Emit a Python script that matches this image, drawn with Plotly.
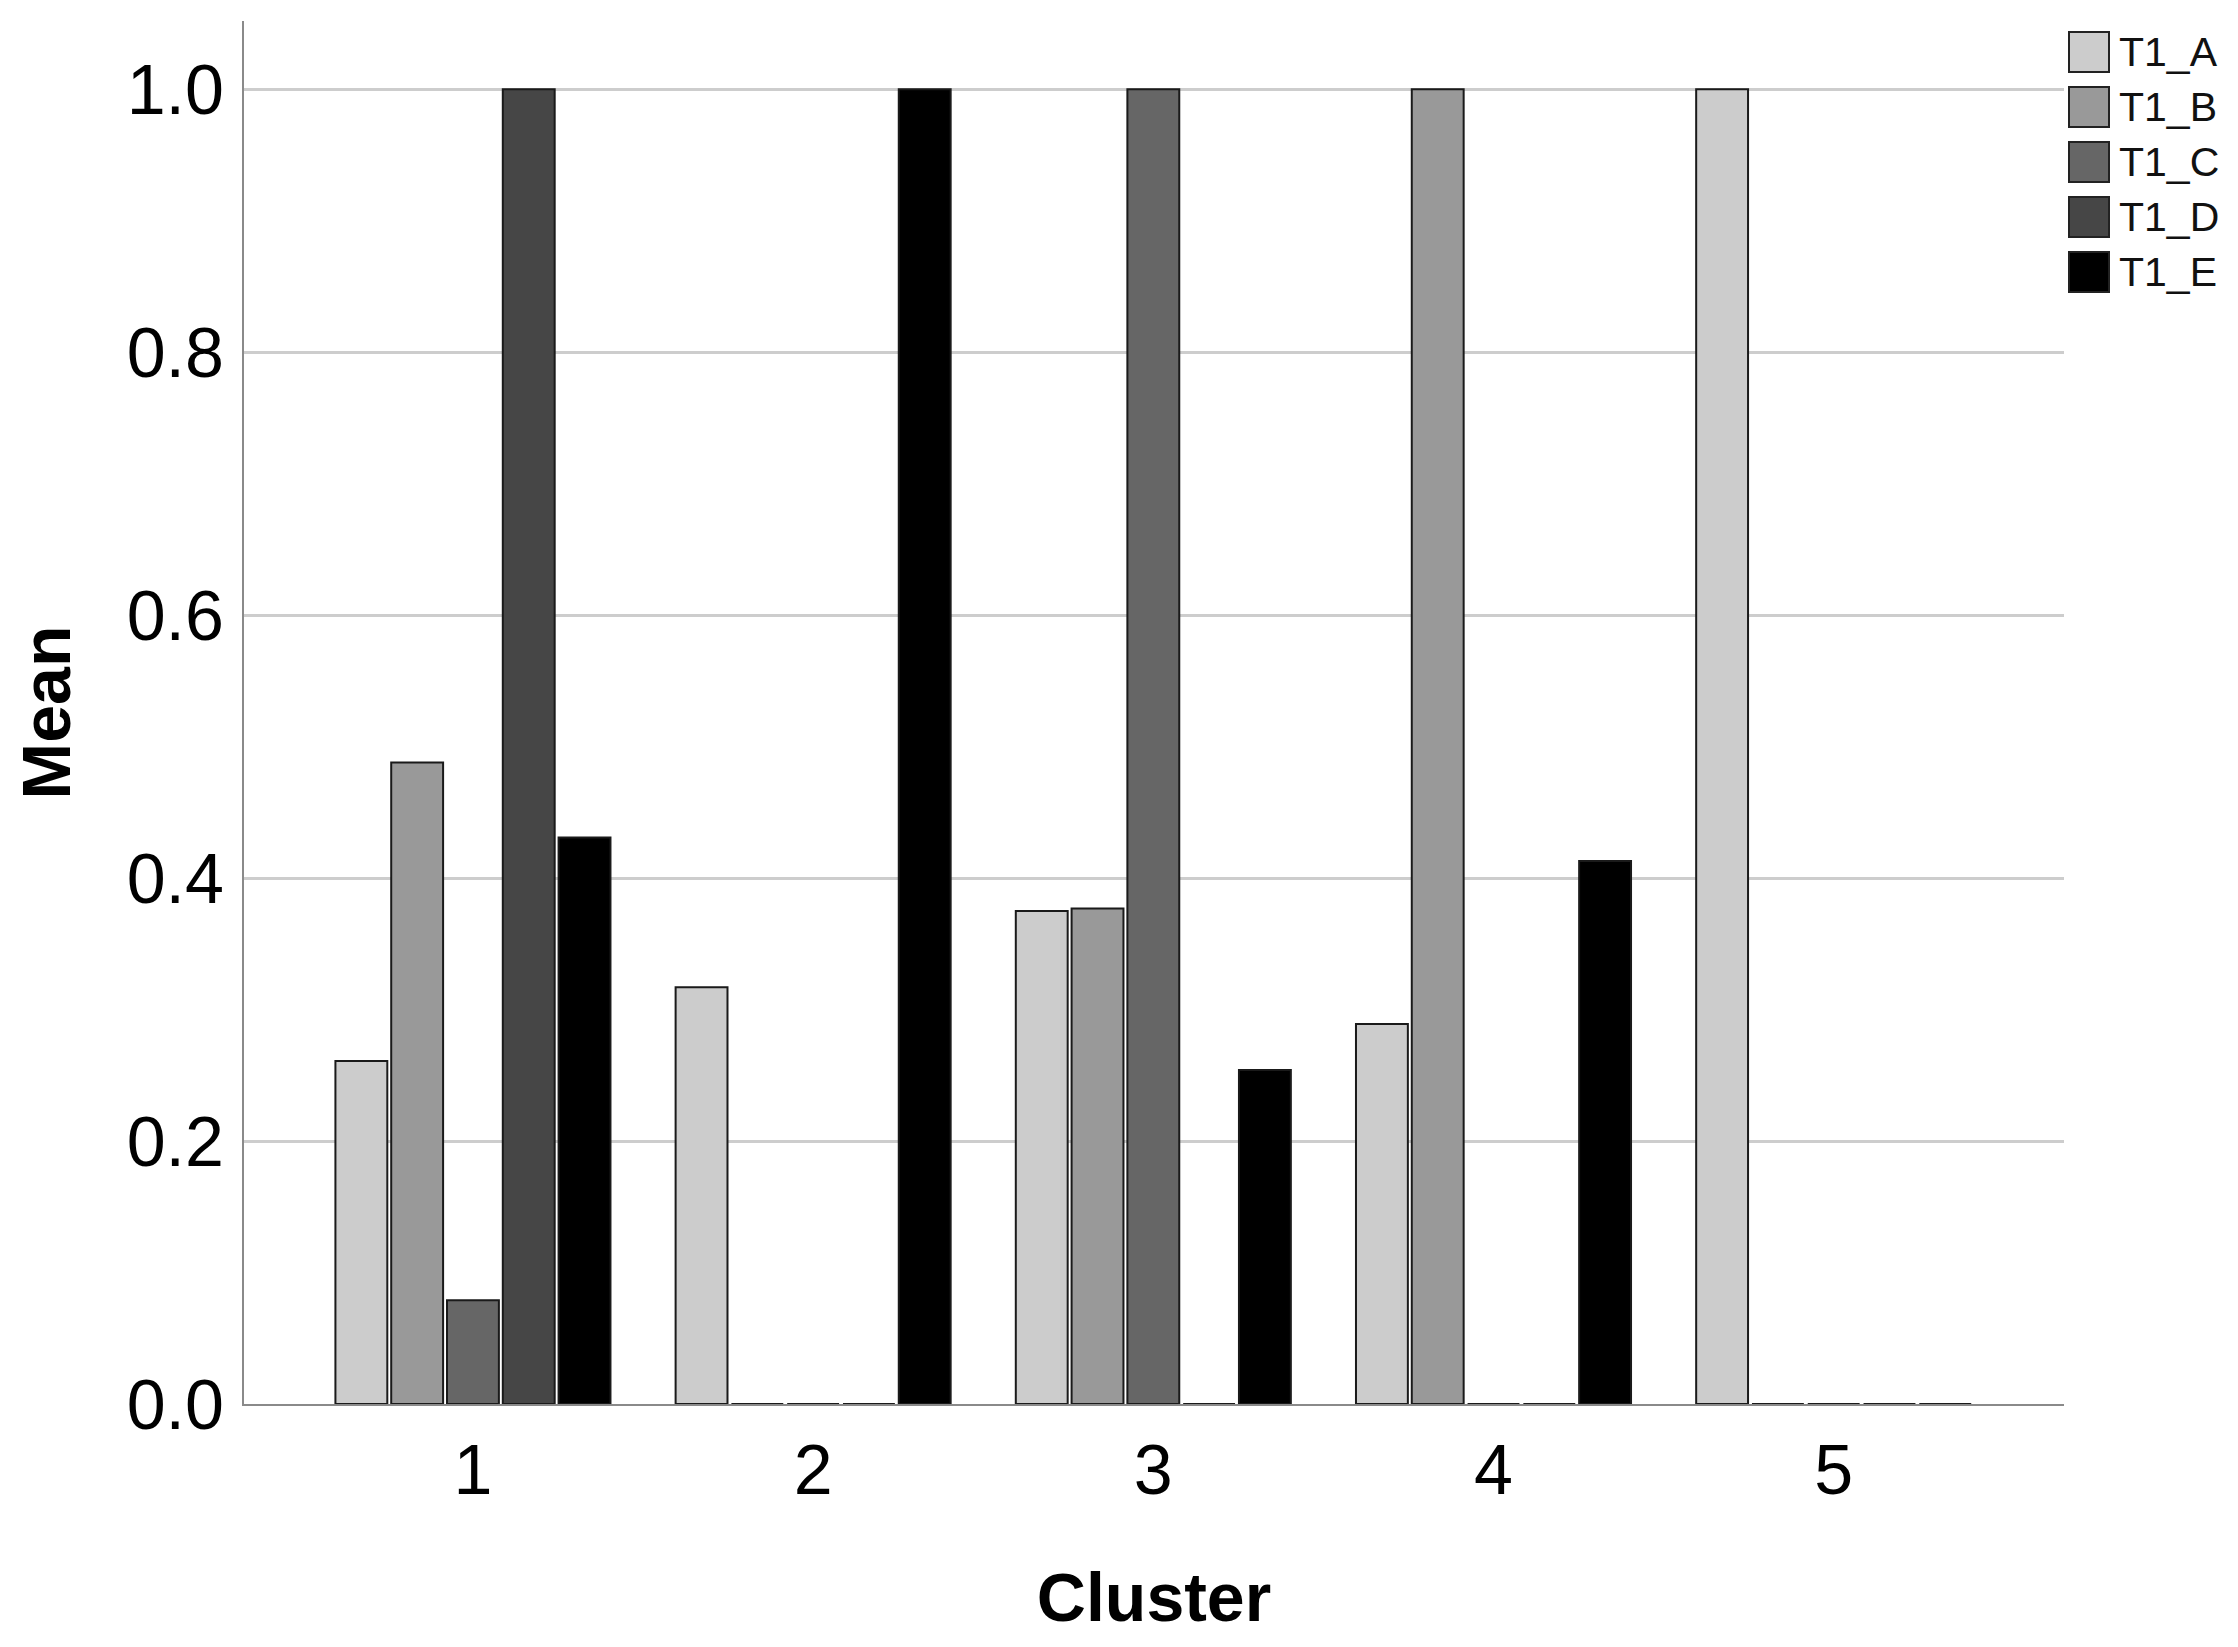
import plotly.graph_objects as go

W, H = 2238, 1647
MARGIN = dict(l=236, r=182, t=13, b=251)

clusters = ["1", "2", "3", "4", "5"]
series_names = ["T1_A", "T1_B", "T1_C", "T1_D", "T1_E"]
series_colors = ["#cccccc", "#999999", "#666666", "#464646", "#000000"]

t1_a = [0.261, 0.317, 0.375, 0.289, 1.0]
t1_b = [0.488, 0.0, 0.377, 1.0, 0.0]
t1_c = [0.079, 0.0, 1.0, 0.0, 0.0]
t1_d = [1.0, 0.0, 0.0, 0.0, 0.0]
t1_e = [0.431, 1.0, 0.254, 0.413, 0.0]

y_ticks = [0.0, 0.2, 0.4, 0.6, 0.8, 1.0]

FONT = "Liberation Sans, Arial, sans-serif"


def main():
    fig = go.Figure()
    values = [t1_a, t1_b, t1_c, t1_d, t1_e]

    for name, color, vals in zip(series_names, series_colors, values):
        fig.add_trace(go.Bar(
            x=clusters,
            y=vals,
            name=name,
            marker=dict(color=color, line=dict(color="#1a1a1a", width=2)),
            showlegend=False,
        ))

    fig.update_layout(
        width=W,
        height=H,
        margin=MARGIN,
        paper_bgcolor="white",
        plot_bgcolor="white",
        barmode="group",
        bargap=0.18,
        bargroupgap=0.07,
        font=dict(family=FONT, color="black"),
    )

    fig.update_xaxes(
        type="category",
        range=[-0.673, 4.677],
        showline=True,
        linecolor="#8a8a8a",
        linewidth=2,
        showgrid=False,
        ticks="",
        tickfont=dict(size=70, family=FONT),
        ticklabelstandoff=4,
        title=dict(text="<b>Cluster</b>", font=dict(size=68, family=FONT), standoff=65),
        zeroline=False,
    )
    fig.update_yaxes(
        range=[0, 1.052],
        tickvals=y_ticks,
        ticktext=["%.1f" % v for v in y_ticks],
        showline=True,
        linecolor="#8a8a8a",
        linewidth=2,
        showgrid=True,
        gridcolor="#cdcdcd",
        gridwidth=3,
        zeroline=False,
        ticks="",
        tickfont=dict(size=70, family=FONT),
        ticklabelstandoff=4,
        title=dict(text="<b>Mean</b>", font=dict(size=68, family=FONT), standoff=50),
    )

    _add_legend(fig)

    fig.write_html("out.html")


def _add_legend(fig):
    # custom legend with big swatches, positioned in pixels
    plot_w = W - MARGIN["l"] - MARGIN["r"]
    plot_h = H - MARGIN["t"] - MARGIN["b"]

    def px_x(px):
        return (px - MARGIN["l"]) / plot_w

    def px_y(py):
        return (H - MARGIN["b"] - py) / plot_h

    top, step, size = 24, 55, 40
    for i, (name, color) in enumerate(zip(series_names, series_colors)):
        y0 = top + i * step
        fig.add_shape(
            type="rect", xref="paper", yref="paper",
            x0=px_x(2061), x1=px_x(2061 + size),
            y0=px_y(y0 + size), y1=px_y(y0),
            fillcolor=color, line=dict(color="#222222", width=2),
        )
        fig.add_annotation(
            xref="paper", yref="paper",
            x=px_x(2109), y=px_y(y0 + size / 2),
            xanchor="left", yanchor="middle",
            text=name, showarrow=False,
            font=dict(size=41, family=FONT, color="#111111"),
        )


if __name__ == '__main__':
    main()
